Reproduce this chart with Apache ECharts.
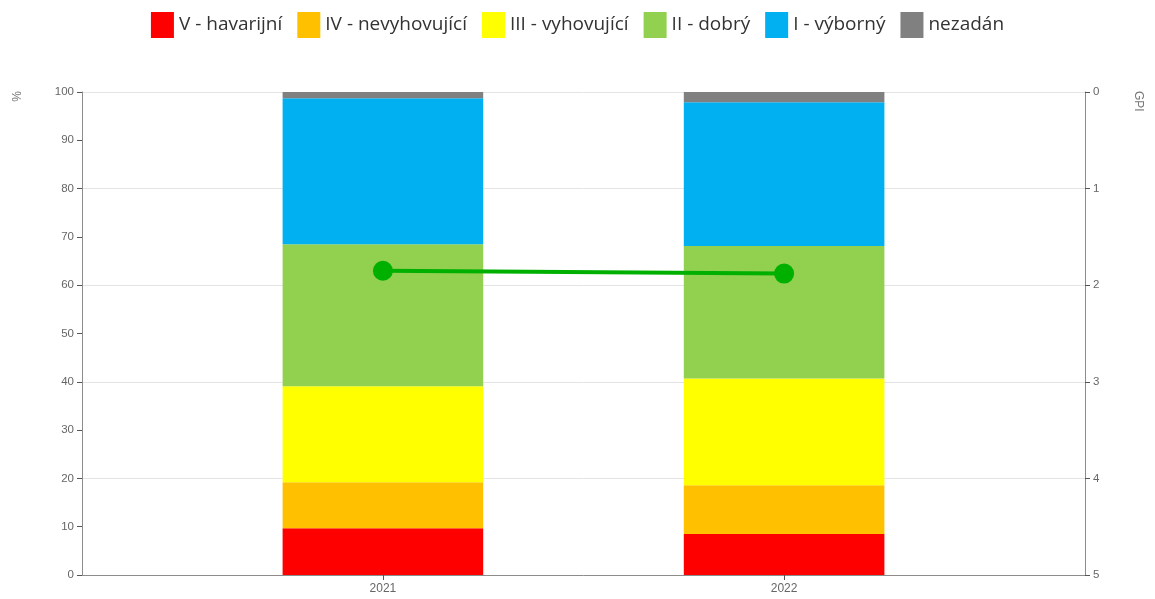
<!DOCTYPE html>
<html>
<head>
<meta charset="utf-8">
<script src="https://cdn.jsdelivr.net/npm/echarts@6/dist/echarts.min.js"></script>
<style>
  html, body { margin: 0; padding: 0; background: #fff; }
  #chart { width: 1155px; height: 599px; }
</style>
</head>
<body>
<div id="chart"></div>
<script>
// Years shown on the x axis; empty slots keep the wide margins around the bars
const years = ['2021', '2022'];
const slots = ['', years[0], '', years[1], ''];

// Share of the condition classes per year (%)
const classNames = ['V - havarijní', 'IV - nevyhovující', 'III - vyhovující', 'II - dobrý', 'I - výborný', 'nezadán'];
const classColors = ['#ff0000', '#ffc000', '#ffff00', '#92d050', '#00b0f0', '#808080'];
const havarijni = [9.7, 8.5];
const nevyhovujici = [9.5, 10.1];
const vyhovujici = [19.9, 22.1];
const dobry = [29.4, 27.4];
const vyborny = [30.2, 29.8];
const nezadan = [1.3, 2.1];

// Overall index per year (right axis)
const gpi = [1.85, 1.88];

const percentTicks = [0, 10, 20, 30, 40, 50, 60, 70, 80, 90, 100];
const gpiTicks = [0, 1, 2, 3, 4, 5];

const classValues = [havarijni, nevyhovujici, vyhovujici, dobry, vyborny, nezadan];

// Spread per-year values onto the slot list
function toSlots(values) {
  return slots.map(s => {
    const k = years.indexOf(s);
    return k >= 0 ? values[k] : '-';
  });
}

const barSeries = classNames.map((name, i) => ({
  name: name,
  type: 'bar',
  stack: 'share',
  yAxisIndex: 0,
  barWidth: '100%',
  itemStyle: { color: classColors[i] },
  emphasis: { disabled: true },
  data: toSlots(classValues[i])
}));

const lineSeries = {
  name: 'GPI',
  type: 'line',
  yAxisIndex: 1,
  symbol: 'circle',
  symbolSize: 20,
  connectNulls: true,
  lineStyle: { color: '#00b000', width: 4 },
  itemStyle: { color: '#00b000' },
  emphasis: { disabled: true },
  z: 5,
  data: toSlots(gpi)
};

const axisGray = '#8c8c8c';
const labelFont = 'Liberation Sans, Arial, sans-serif';
const isYear = (idx, v) => v !== '';

const chart = echarts.init(document.getElementById('chart'), null, { renderer: 'canvas' });
chart.setOption({
  animation: false,
  backgroundColor: '#fff',
  legend: {
    top: 7,
    left: 'center',
    itemWidth: 23,
    itemHeight: 26,
    itemGap: 15,
    icon: 'rect',
    data: classNames,
    textStyle: { color: '#333', fontSize: 19, fontFamily: 'Open Sans, sans-serif' }
  },
  grid: { left: 82, right: 70, top: 92, bottom: 24 },
  xAxis: {
    type: 'category',
    data: slots,
    boundaryGap: true,
    splitLine: { show: false },
    axisLine: { show: true, lineStyle: { color: axisGray } },
    axisTick: { show: true, length: 5, alignWithLabel: true, interval: isYear, lineStyle: { color: '#555' } },
    axisLabel: { interval: isYear, margin: 8, color: '#666', fontSize: 12, fontFamily: labelFont }
  },
  yAxis: [
    {
      type: 'value',
      position: 'left',
      min: percentTicks[0],
      max: percentTicks[percentTicks.length - 1],
      interval: 10,
      splitLine: { show: false },
      axisLine: { show: true, lineStyle: { color: axisGray } },
      axisTick: { show: true, length: 5, lineStyle: { color: '#555' } },
      axisLabel: { margin: 8, color: '#666', fontSize: 11.5, fontFamily: labelFont }
    },
    {
      type: 'value',
      position: 'right',
      inverse: true,
      min: gpiTicks[0],
      max: gpiTicks[gpiTicks.length - 1],
      interval: 1,
      splitLine: { show: true, lineStyle: { color: '#e4e4e4', width: 1 } },
      axisLine: { show: true, lineStyle: { color: axisGray } },
      axisTick: { show: true, length: 5, lineStyle: { color: '#555' } },
      axisLabel: { margin: 8, color: '#666', fontSize: 11.5, fontFamily: labelFont }
    }
  ],
  graphic: [
    {
      type: 'text',
      left: 12,
      top: 91,
      rotation: Math.PI / 2,
      style: { text: '%', fill: '#777', font: '12px Liberation Sans, Arial, sans-serif' }
    },
    {
      type: 'text',
      left: 1132,
      top: 91,
      rotation: -Math.PI / 2,
      style: { text: 'GPI', fill: '#777', font: '12px Liberation Sans, Arial, sans-serif' }
    }
  ],
  series: barSeries.concat([lineSeries])
});
</script>
</body>
</html>
